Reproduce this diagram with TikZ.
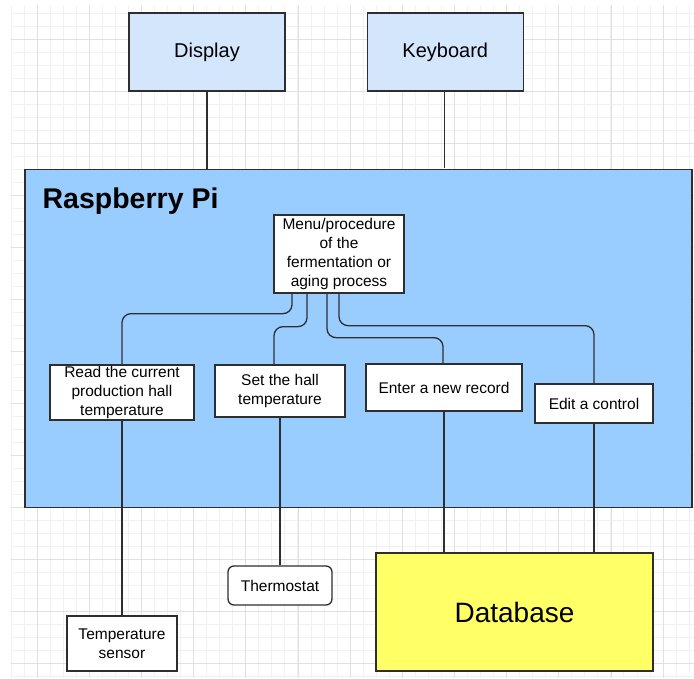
\documentclass[tikz,border=0pt]{standalone}
\usepackage{fontspec}
\setmainfont{Liberation Sans}
\usetikzlibrary{positioning}
\definecolor{devblue}{HTML}{D4E6FC}
\definecolor{piblue}{HTML}{99CCFF}
\definecolor{dbyellow}{HTML}{FFFF66}
\definecolor{gridmin}{HTML}{F1F1F1}
\definecolor{gridmaj}{HTML}{E0E0E0}
\definecolor{edge}{HTML}{2E2E2E}

\begin{document}
\begin{tikzpicture}[x=1pt,y=-1pt,line width=1.3pt]
  \tikzstyle{box}=[draw=edge,fill=white,inner sep=0pt,align=center,
                   font=\fontsize{15.5}{19}\selectfont]
  \tikzstyle{device}=[box,fill=devblue,minimum width=156pt,minimum height=78pt,
                      font=\fontsize{20}{24}\selectfont]
  \tikzstyle{wire}=[draw=edge,rounded corners=9pt]

  \useasboundingbox[fill=white] (0,0) rectangle (694,678);
  \begin{scope}[line width=0.8pt]
    \clip (11,5) rectangle (694,678);
    \foreach \i in {0,...,52}
      \draw[gridmin] ({11+13.04*\i},5) -- ++(0,673);
    \foreach \i in {0,...,52}
      \draw[gridmin] (11,{13*\i}) -- ++(683,0);
    \foreach \i in {0,...,12}
      \draw[gridmaj] ({37.08+52.17*\i},5) -- ++(0,673);
    \foreach \i in {0,...,12}
      \draw[gridmaj] (11,{39+52*\i}) -- ++(683,0);
  \end{scope}

  \node[box,fill=piblue,minimum width=667pt,minimum height=338pt] (pi) at (358.5,338.5) {};
  \node[anchor=base west,inner sep=0pt,font=\bfseries\fontsize{28.5}{34}\selectfont] (title)
       at (42,208) {Raspberry Pi};

  \node[device]                     (display) at (207,52) {Display};
  \node[device,right=81pt of display] (kbd)               {Keyboard};

  \node[box,minimum width=130pt,minimum height=78pt] (menu) at (339,254)
       {Menu/procedure\\of the\\fermentation or\\aging process};
  \node[box,minimum width=144pt,minimum height=55pt] (read) at (122,392.5)
       {Read the current\\production hall\\temperature};
  \node[box,minimum width=130pt,minimum height=52pt] (set) at (280,391)
       {Set the hall\\temperature};
  \node[box,minimum width=156pt,minimum height=47pt] (enter) at (444,387.5)
       {Enter a new record};
  \node[box,minimum width=118pt,minimum height=39pt] (edit) at (594,403.5)
       {Edit a control};

  \node[box,minimum width=110pt,minimum height=55pt] (sensor) at (122,643.5)
       {Temperature\\sensor};
  \node[box,rounded corners=6pt,minimum width=104pt,minimum height=39pt] (thermo) at (280,585.5)
       {Thermostat};
  \node[box,fill=dbyellow,minimum width=277pt,minimum height=118pt,
        font=\fontsize{28}{34}\selectfont] (db) at (514.5,612) {Database};

  \draw[wire] (display.south) -- (display.south |- pi.north);
  \draw[wire] ([xshift=-1pt]kbd.south) -- ++(0,76);

  \draw[wire] ([xshift=-47pt]menu.south) -- ++(0,20) -| (read.north);
  \draw[wire] ([xshift=-32pt]menu.south) -- ++(0,33) -| ([xshift=-6pt]set.north);
  \draw[wire] ([xshift=-12pt]menu.south) -- ++(0,44) -| ([xshift=-1pt]enter.north);
  \draw[wire] (menu.south) -- ++(0,32) -| (edit.north);

  \path[draw=edge] (read) edge (sensor)
                   (set)  edge (thermo)
                   (enter.south) edge (enter.south |- db.north)
                   (edit.south)  edge (edit.south |- db.north);
\end{tikzpicture}
\end{document}
